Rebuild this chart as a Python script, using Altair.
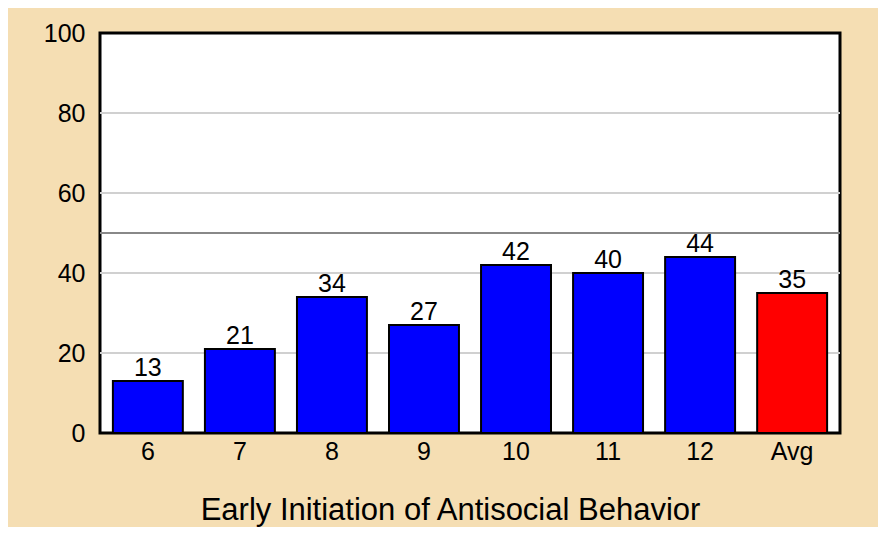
import altair as alt
import pandas as pd

categories = ["6", "7", "8", "9", "10", "11", "12", "Avg"]
values = [13, 21, 34, 27, 42, 40, 44, 35]
colors = ["#0000FF"] * 7 + ["#FF0000"]
y_ticks = [0, 20, 40, 60, 80, 100]
grid_values = [20, 40, 60, 80]
ref_value = [50]
x_title = "Early Initiation of Antisocial Behavior"

df = pd.DataFrame({"cat": categories, "val": values, "color": colors})
ref_df = pd.DataFrame({"ref": ref_value})

FONT = "Liberation Sans"
yscale = alt.Scale(domain=[0, 100], nice=False)
yaxis = alt.Axis(title=None, values=y_ticks)

grid = alt.Chart(pd.DataFrame({"g": grid_values})).mark_rule(
    color="#d0d0d0", strokeWidth=2
).encode(y=alt.Y("g:Q", scale=yscale, axis=yaxis))

ref = alt.Chart(ref_df).mark_rule(color="#888888", strokeWidth=2).encode(
    y=alt.Y("ref:Q", scale=yscale, axis=yaxis)
)

bars = alt.Chart(df).mark_bar(stroke="black", strokeWidth=2).encode(
    x=alt.X(
        "cat:N",
        sort=categories,
        scale=alt.Scale(paddingInner=0.24, paddingOuter=0.14),
        axis=alt.Axis(title=x_title, labelAngle=0, titleX=350, titleAlign="center"),
    ),
    y=alt.Y("val:Q", scale=yscale, axis=yaxis),
    color=alt.Color("color:N", scale=None),
)

labels = alt.Chart(df).mark_text(
    baseline="alphabetic", dy=-5, fontSize=25, font=FONT, color="black"
).encode(
    x=alt.X("cat:N", sort=categories),
    y=alt.Y("val:Q", scale=yscale, axis=yaxis),
    text=alt.Text("val:Q"),
)

chart = (
    alt.layer(grid, ref, bars, labels)
    .properties(
        width=740,
        height=400,
        background="#F5DEB3",
        padding={"left": 92, "top": 25, "right": 38, "bottom": 94},
        autosize=alt.AutoSizeParams(type="none"),
    )
    .configure_view(fill="white", stroke="black", strokeWidth=3)
    .configure_axis(
        grid=False,
        ticks=False,
        domain=False,
        labelFontSize=25,
        labelFont=FONT,
        labelColor="black",
        titleFontSize=31,
        titleFont=FONT,
        titleFontWeight="normal",
        titleColor="black",
    )
    .configure_axisX(labelPadding=6, titlePadding=31)
    .configure_axisY(labelPadding=15)
)

chart.save("out.html", embed_options={"renderer": "svg", "actions": False})
